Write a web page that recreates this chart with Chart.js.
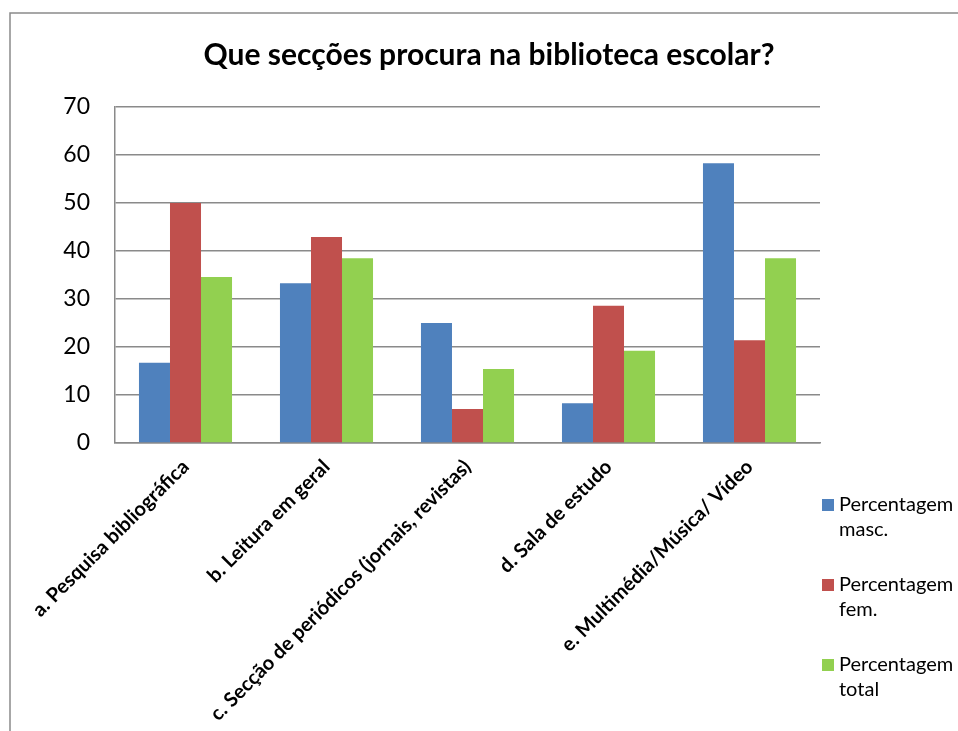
<!DOCTYPE html>
<html><head><meta charset="utf-8">
<script src="https://cdn.jsdelivr.net/npm/chart.js@4/dist/chart.umd.min.js"></script>
<style>html,body{margin:0;padding:0;background:#fff}#wrap{width:958px;height:731px;position:relative}</style>
</head><body><div id="wrap"><canvas id="c" width="958" height="731"></canvas></div>
<script>
const titleText = "Que secções procura na biblioteca escolar?";
const categories = ["a. Pesquisa bibliográfica","b. Leitura em geral","c. Secção de periódicos (jornais, revistas)","d. Sala de estudo","e. Multimédia/Música/ Vídeo"];
const seriesNames = [["Percentagem","masc."],["Percentagem","fem."],["Percentagem","total"]];
const masc = [16.7, 33.3, 25, 8.3, 58.3];
const fem = [50, 42.9, 7.1, 28.6, 21.4];
const total = [34.6, 38.5, 15.4, 19.2, 38.5];
const colors = ["#4F81BD","#C0504D","#92D050"];

const deco = {
  id:'deco',
  beforeDraw(chart){
    const ctx = chart.ctx;
    ctx.save();
    ctx.fillStyle='#fff'; ctx.fillRect(0,0,chart.width,chart.height);
    ctx.strokeStyle='#8a8a8a'; ctx.lineWidth=1.5;
    ctx.beginPath(); ctx.moveTo(10,chart.height+5); ctx.lineTo(10,13); ctx.lineTo(chart.width+5,13); ctx.stroke();
    ctx.restore();
  },
  afterDraw(chart){
    const ctx = chart.ctx;
    ctx.save();
    ctx.fillStyle='#000';
    ctx.font='bold 30px Lato';
    ctx.textAlign='center'; ctx.textBaseline='middle';
    ctx.fillText(titleText, 489, 55);
    ctx.font='20px Lato';
    ctx.textAlign='left';
    chart.data.datasets.forEach((ds,i)=>{
      const y0 = 505 + i*80;
      ctx.fillStyle = ds.backgroundColor;
      ctx.fillRect(822, y0-6, 12, 12);
      ctx.fillStyle='#000';
      const lines = seriesNames[i];
      lines.forEach((t,j)=>ctx.fillText(t, 839, y0 + j*25));
    });
    ctx.restore();
  }
};

new Chart(document.getElementById('c'), {
  type:'bar',
  data:{
    labels: categories,
    datasets:[
      {label:seriesNames[0].join(' '), data:masc, backgroundColor:colors[0]},
      {label:seriesNames[1].join(' '), data:fem, backgroundColor:colors[1]},
      {label:seriesNames[2].join(' '), data:total, backgroundColor:colors[2]}
    ]
  },
  options:{
    responsive:false, animation:false,
    layout:{padding:{left:0,right:138,top:107,bottom:0}},
    datasets:{bar:{categoryPercentage:0.66, barPercentage:1.0, borderWidth:0}},
    plugins:{legend:{display:false}, title:{display:false}, tooltip:{enabled:false}},
    scales:{
      x:{
        grid:{display:false, drawTicks:false},
        border:{display:true, color:'#8a8a8a', width:1.5},
        ticks:{color:'#000', font:{family:'Lato', size:20, weight:'bold'}, minRotation:45, maxRotation:45, padding:12, autoSkip:false},
        afterFit(s){ s.height = 731-443; }
      },
      y:{
        min:0, max:70,
        grid:{color:'#8a8a8a', lineWidth:1.5, drawTicks:false},
        border:{display:true, color:'#8a8a8a', width:1.5},
        ticks:{stepSize:10, color:'#000', font:{family:'Lato', size:23}, padding:25},
        afterFit(s){ s.width = 115; }
      }
    }
  },
  plugins:[deco]
});
</script></body></html>
